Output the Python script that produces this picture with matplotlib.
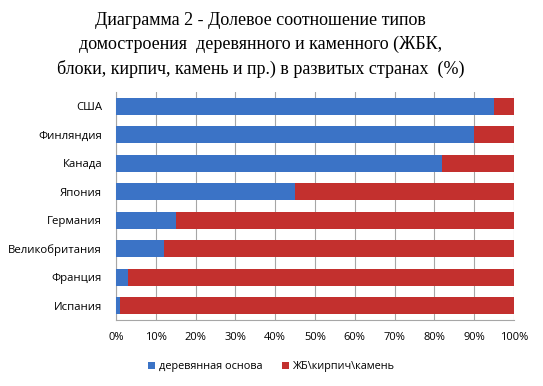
import matplotlib.pyplot as plt
import numpy as np

countries = ['США', 'Финляндия', 'Канада', 'Япония', 'Германия',
             'Великобритания', 'Франция', 'Испания']
wood = [95, 90, 82, 45, 15, 12, 3, 1]
stone = [100 - w for w in wood]
ticks = list(range(0, 101, 10))

fig = plt.figure(figsize=(5.43, 3.86), dpi=100)
ax = fig.add_axes([0.2136, 0.171, 0.733, 0.591])

y = np.arange(len(countries))[::-1]
ax.barh(y, wood, height=0.6, color='#3b73c6', label='деревянная основа', zorder=3)
ax.barh(y, stone, left=wood, height=0.6, color='#c3302e', label='ЖБ\\кирпич\\камень', zorder=3)

ax.set_xlim(0, 100)
ax.set_ylim(-0.5, len(countries) - 0.5)
ax.set_yticks(y)
ax.set_yticklabels(countries, fontsize=8.2, family='Open Sans')
ax.set_xticks(ticks)
ax.set_xticklabels([f'{t}%' for t in ticks], fontsize=8, family='Open Sans')
ax.tick_params(axis='y', length=0, pad=10)
ax.tick_params(axis='x', length=0, pad=9)
ax.grid(axis='x', color='#a6a6a6', linewidth=0.8, zorder=0)
for s in ['top', 'right']:
    ax.spines[s].set_visible(False)
ax.spines['left'].set_color('#a6a6a6')
ax.spines['bottom'].set_color('#a6a6a6')

# title, three lines like the original
fig.text(0.48, 0.968,
         'Диаграмма 2 - Долевое соотношение типов\n'
         'домостроения  деревянного и каменного (ЖБК,\n'
         'блоки, кирпич, камень и пр.) в развитых странах  (%)',
         family='Liberation Serif', fontsize=13, ha='center', va='top',
         linespacing=1.5)

fig.legend(loc='center', bbox_to_anchor=(0.5, 0.05), ncol=2, frameon=False,
           prop={'family': 'Open Sans', 'size': 7.8}, handlelength=0.6, handleheight=0.6,
           columnspacing=1.8, handletextpad=0.4)

plt.savefig('out.png', dpi=100)
